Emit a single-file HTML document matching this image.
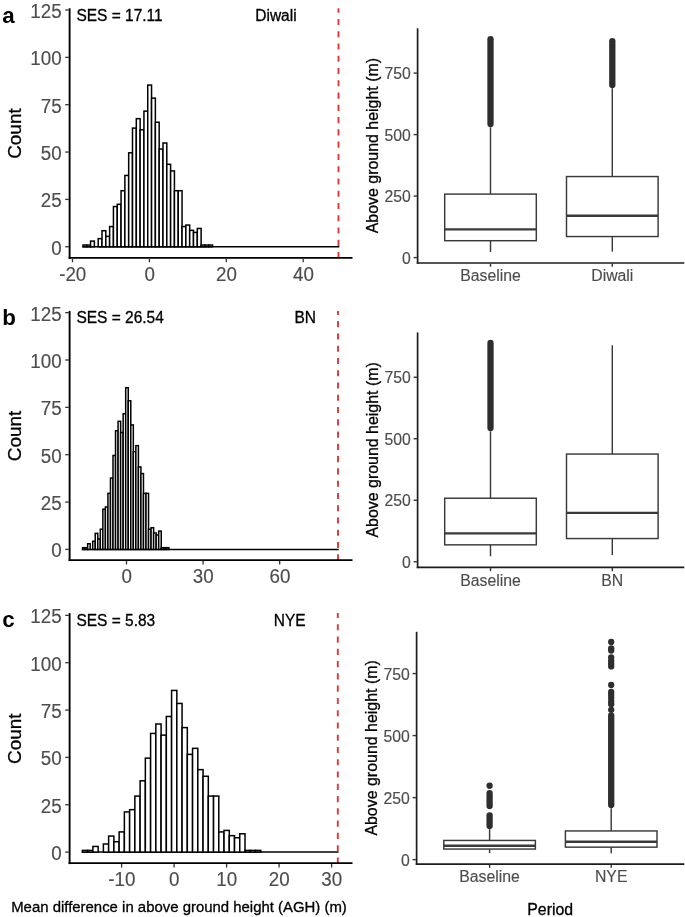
<!DOCTYPE html>
<html lang="en"><head><meta charset="utf-8"><title>Figure</title>
<style>html,body{margin:0;padding:0;background:#fff}svg{display:block;font-family:'Liberation Sans', Arial, sans-serif;filter:blur(0.45px)}text{stroke-width:.3px;stroke-linejoin:round}.g{fill:#4d4d4d;stroke:#4d4d4d;stroke-width:.15px}.k{fill:#000;stroke:#000}.b{fill:#000}</style>
</head><body>
<svg width="685" height="917" viewBox="0 0 685 917">
<rect width="685" height="917" fill="#fff"/>
<line x1="82.29" y1="246.75" x2="339.30" y2="246.75" stroke="#000" stroke-width="1.5"/>
<rect x="82.94" y="245.05" width="3.81" height="1.70" fill="#fff" stroke="#000" stroke-width="1.5"/>
<rect x="86.75" y="245.05" width="3.81" height="1.70" fill="#fff" stroke="#000" stroke-width="1.5"/>
<rect x="90.56" y="241.09" width="3.81" height="5.66" fill="#fff" stroke="#000" stroke-width="1.5"/>
<rect x="98.19" y="238.64" width="3.81" height="8.11" fill="#fff" stroke="#000" stroke-width="1.5"/>
<rect x="102.00" y="230.72" width="3.81" height="16.03" fill="#fff" stroke="#000" stroke-width="1.5"/>
<rect x="105.81" y="236.37" width="3.81" height="10.38" fill="#fff" stroke="#000" stroke-width="1.5"/>
<rect x="109.62" y="226.57" width="3.81" height="20.18" fill="#fff" stroke="#000" stroke-width="1.5"/>
<rect x="113.44" y="206.57" width="3.81" height="40.18" fill="#fff" stroke="#000" stroke-width="1.5"/>
<rect x="117.25" y="204.31" width="3.81" height="42.44" fill="#fff" stroke="#000" stroke-width="1.5"/>
<rect x="121.06" y="190.72" width="3.81" height="56.03" fill="#fff" stroke="#000" stroke-width="1.5"/>
<rect x="124.87" y="175.44" width="3.81" height="71.31" fill="#fff" stroke="#000" stroke-width="1.5"/>
<rect x="128.68" y="152.81" width="3.81" height="93.94" fill="#fff" stroke="#000" stroke-width="1.5"/>
<rect x="132.50" y="128.09" width="3.81" height="118.66" fill="#fff" stroke="#000" stroke-width="1.5"/>
<rect x="136.31" y="118.66" width="3.81" height="128.09" fill="#fff" stroke="#000" stroke-width="1.5"/>
<rect x="140.12" y="129.79" width="3.81" height="116.96" fill="#fff" stroke="#000" stroke-width="1.5"/>
<rect x="143.93" y="111.12" width="3.81" height="135.63" fill="#fff" stroke="#000" stroke-width="1.5"/>
<rect x="147.74" y="85.08" width="3.81" height="161.67" fill="#fff" stroke="#000" stroke-width="1.5"/>
<rect x="151.56" y="98.10" width="3.81" height="148.65" fill="#fff" stroke="#000" stroke-width="1.5"/>
<rect x="155.37" y="122.25" width="3.81" height="124.50" fill="#fff" stroke="#000" stroke-width="1.5"/>
<rect x="159.18" y="149.03" width="3.81" height="97.72" fill="#fff" stroke="#000" stroke-width="1.5"/>
<rect x="162.99" y="143.00" width="3.81" height="103.75" fill="#fff" stroke="#000" stroke-width="1.5"/>
<rect x="166.80" y="164.31" width="3.81" height="82.44" fill="#fff" stroke="#000" stroke-width="1.5"/>
<rect x="170.62" y="170.92" width="3.81" height="75.83" fill="#fff" stroke="#000" stroke-width="1.5"/>
<rect x="174.43" y="190.72" width="3.81" height="56.03" fill="#fff" stroke="#000" stroke-width="1.5"/>
<rect x="178.24" y="190.72" width="3.81" height="56.03" fill="#fff" stroke="#000" stroke-width="1.5"/>
<rect x="182.05" y="226.57" width="3.81" height="20.18" fill="#fff" stroke="#000" stroke-width="1.5"/>
<rect x="185.86" y="225.06" width="3.81" height="21.69" fill="#fff" stroke="#000" stroke-width="1.5"/>
<rect x="189.68" y="230.34" width="3.81" height="16.41" fill="#fff" stroke="#000" stroke-width="1.5"/>
<rect x="193.49" y="232.41" width="3.81" height="14.34" fill="#fff" stroke="#000" stroke-width="1.5"/>
<rect x="197.30" y="228.45" width="3.81" height="18.30" fill="#fff" stroke="#000" stroke-width="1.5"/>
<rect x="201.11" y="245.05" width="3.81" height="1.70" fill="#fff" stroke="#000" stroke-width="1.5"/>
<rect x="204.92" y="245.05" width="3.81" height="1.70" fill="#fff" stroke="#000" stroke-width="1.5"/>
<rect x="208.74" y="245.05" width="3.81" height="1.70" fill="#fff" stroke="#000" stroke-width="1.5"/>
<line x1="338.50" y1="258.15" x2="338.50" y2="8.30" stroke="#d93a36" stroke-width="1.9" stroke-dasharray="6.1 6.17"/>
<line x1="69.6" y1="8.30" x2="69.6" y2="258.75" stroke="#000" stroke-width="1.9"/>
<line x1="68.65" y1="257.85" x2="352.5" y2="257.85" stroke="#000" stroke-width="1.8"/>
<line x1="65.2" y1="246.75" x2="68.8" y2="246.75" stroke="#333" stroke-width="1.3"/>
<text transform="translate(61.6 254.60) scale(1 1.042)" text-anchor="end" font-size="18.8" class="g">0</text>
<line x1="65.2" y1="199.40" x2="68.8" y2="199.40" stroke="#333" stroke-width="1.3"/>
<text transform="translate(61.6 207.25) scale(1 1.042)" text-anchor="end" font-size="18.8" class="g">25</text>
<line x1="65.2" y1="152.05" x2="68.8" y2="152.05" stroke="#333" stroke-width="1.3"/>
<text transform="translate(61.6 159.90) scale(1 1.042)" text-anchor="end" font-size="18.8" class="g">50</text>
<line x1="65.2" y1="104.70" x2="68.8" y2="104.70" stroke="#333" stroke-width="1.3"/>
<text transform="translate(61.6 112.55) scale(1 1.042)" text-anchor="end" font-size="18.8" class="g">75</text>
<line x1="65.2" y1="57.35" x2="68.8" y2="57.35" stroke="#333" stroke-width="1.3"/>
<text transform="translate(61.6 65.20) scale(1 1.042)" text-anchor="end" font-size="18.8" class="g">100</text>
<line x1="65.2" y1="10.00" x2="68.8" y2="10.00" stroke="#333" stroke-width="1.3"/>
<text transform="translate(61.6 17.85) scale(1 1.042)" text-anchor="end" font-size="18.8" class="g">125</text>
<line x1="72.50" y1="258.65" x2="72.50" y2="262.25" stroke="#333" stroke-width="1.3"/>
<text transform="translate(72.70 281.05) scale(1 1.042)" text-anchor="middle" font-size="18.8" class="g">-20</text>
<line x1="149.40" y1="258.65" x2="149.40" y2="262.25" stroke="#333" stroke-width="1.3"/>
<text transform="translate(149.60 281.05) scale(1 1.042)" text-anchor="middle" font-size="18.8" class="g">0</text>
<line x1="226.30" y1="258.65" x2="226.30" y2="262.25" stroke="#333" stroke-width="1.3"/>
<text transform="translate(226.50 281.05) scale(1 1.042)" text-anchor="middle" font-size="18.8" class="g">20</text>
<line x1="303.20" y1="258.65" x2="303.20" y2="262.25" stroke="#333" stroke-width="1.3"/>
<text transform="translate(303.40 281.05) scale(1 1.042)" text-anchor="middle" font-size="18.8" class="g">40</text>
<text transform="translate(21.4 133.58) rotate(-90)" text-anchor="middle" font-size="18.95" class="k">Count</text>
<text x="2.3" y="22.85" font-size="22.3" font-weight="bold" class="b">a</text>
<text transform="translate(76.4 20.65) scale(1 1.042)" font-size="15.5" class="k">SES = 17.11</text>
<text transform="translate(255.30 20.65) scale(1 1.02)" font-size="15.5" class="k">Diwali</text>
<line x1="81.91" y1="549.40" x2="338.80" y2="549.40" stroke="#000" stroke-width="1.5"/>
<rect x="82.56" y="547.70" width="2.54" height="1.70" fill="#fff" stroke="#000" stroke-width="1.5"/>
<rect x="85.09" y="547.70" width="2.54" height="1.70" fill="#fff" stroke="#000" stroke-width="1.5"/>
<rect x="87.63" y="543.74" width="2.54" height="5.66" fill="#fff" stroke="#000" stroke-width="1.5"/>
<rect x="92.71" y="541.29" width="2.54" height="8.11" fill="#fff" stroke="#000" stroke-width="1.5"/>
<rect x="95.25" y="533.37" width="2.54" height="16.03" fill="#fff" stroke="#000" stroke-width="1.5"/>
<rect x="97.78" y="539.02" width="2.54" height="10.38" fill="#fff" stroke="#000" stroke-width="1.5"/>
<rect x="100.32" y="529.22" width="2.54" height="20.18" fill="#fff" stroke="#000" stroke-width="1.5"/>
<rect x="102.86" y="509.22" width="2.54" height="40.18" fill="#fff" stroke="#000" stroke-width="1.5"/>
<rect x="105.40" y="506.96" width="2.54" height="42.44" fill="#fff" stroke="#000" stroke-width="1.5"/>
<rect x="107.94" y="493.37" width="2.54" height="56.03" fill="#fff" stroke="#000" stroke-width="1.5"/>
<rect x="110.47" y="478.09" width="2.54" height="71.31" fill="#fff" stroke="#000" stroke-width="1.5"/>
<rect x="113.01" y="455.46" width="2.54" height="93.94" fill="#fff" stroke="#000" stroke-width="1.5"/>
<rect x="115.55" y="430.74" width="2.54" height="118.66" fill="#fff" stroke="#000" stroke-width="1.5"/>
<rect x="118.09" y="421.31" width="2.54" height="128.09" fill="#fff" stroke="#000" stroke-width="1.5"/>
<rect x="120.62" y="432.44" width="2.54" height="116.96" fill="#fff" stroke="#000" stroke-width="1.5"/>
<rect x="123.16" y="413.77" width="2.54" height="135.63" fill="#fff" stroke="#000" stroke-width="1.5"/>
<rect x="125.70" y="387.73" width="2.54" height="161.67" fill="#fff" stroke="#000" stroke-width="1.5"/>
<rect x="128.24" y="400.75" width="2.54" height="148.65" fill="#fff" stroke="#000" stroke-width="1.5"/>
<rect x="130.78" y="424.90" width="2.54" height="124.50" fill="#fff" stroke="#000" stroke-width="1.5"/>
<rect x="133.31" y="451.68" width="2.54" height="97.72" fill="#fff" stroke="#000" stroke-width="1.5"/>
<rect x="135.85" y="445.65" width="2.54" height="103.75" fill="#fff" stroke="#000" stroke-width="1.5"/>
<rect x="138.39" y="466.96" width="2.54" height="82.44" fill="#fff" stroke="#000" stroke-width="1.5"/>
<rect x="140.93" y="473.57" width="2.54" height="75.83" fill="#fff" stroke="#000" stroke-width="1.5"/>
<rect x="143.47" y="493.37" width="2.54" height="56.03" fill="#fff" stroke="#000" stroke-width="1.5"/>
<rect x="146.00" y="493.37" width="2.54" height="56.03" fill="#fff" stroke="#000" stroke-width="1.5"/>
<rect x="148.54" y="529.22" width="2.54" height="20.18" fill="#fff" stroke="#000" stroke-width="1.5"/>
<rect x="151.08" y="527.71" width="2.54" height="21.69" fill="#fff" stroke="#000" stroke-width="1.5"/>
<rect x="153.62" y="532.99" width="2.54" height="16.41" fill="#fff" stroke="#000" stroke-width="1.5"/>
<rect x="156.16" y="535.06" width="2.54" height="14.34" fill="#fff" stroke="#000" stroke-width="1.5"/>
<rect x="158.69" y="531.10" width="2.54" height="18.30" fill="#fff" stroke="#000" stroke-width="1.5"/>
<rect x="161.23" y="547.70" width="2.54" height="1.70" fill="#fff" stroke="#000" stroke-width="1.5"/>
<rect x="163.77" y="547.70" width="2.54" height="1.70" fill="#fff" stroke="#000" stroke-width="1.5"/>
<rect x="166.31" y="547.70" width="2.54" height="1.70" fill="#fff" stroke="#000" stroke-width="1.5"/>
<line x1="338.00" y1="560.35" x2="338.00" y2="310.90" stroke="#d93a36" stroke-width="1.9" stroke-dasharray="6.1 6.17"/>
<line x1="69.6" y1="310.90" x2="69.6" y2="560.95" stroke="#000" stroke-width="1.9"/>
<line x1="68.65" y1="560.05" x2="352.5" y2="560.05" stroke="#000" stroke-width="1.8"/>
<line x1="65.2" y1="549.40" x2="68.8" y2="549.40" stroke="#333" stroke-width="1.3"/>
<text transform="translate(61.6 557.25) scale(1 1.042)" text-anchor="end" font-size="18.8" class="g">0</text>
<line x1="65.2" y1="502.05" x2="68.8" y2="502.05" stroke="#333" stroke-width="1.3"/>
<text transform="translate(61.6 509.90) scale(1 1.042)" text-anchor="end" font-size="18.8" class="g">25</text>
<line x1="65.2" y1="454.70" x2="68.8" y2="454.70" stroke="#333" stroke-width="1.3"/>
<text transform="translate(61.6 462.55) scale(1 1.042)" text-anchor="end" font-size="18.8" class="g">50</text>
<line x1="65.2" y1="407.35" x2="68.8" y2="407.35" stroke="#333" stroke-width="1.3"/>
<text transform="translate(61.6 415.20) scale(1 1.042)" text-anchor="end" font-size="18.8" class="g">75</text>
<line x1="65.2" y1="360.00" x2="68.8" y2="360.00" stroke="#333" stroke-width="1.3"/>
<text transform="translate(61.6 367.85) scale(1 1.042)" text-anchor="end" font-size="18.8" class="g">100</text>
<line x1="65.2" y1="312.65" x2="68.8" y2="312.65" stroke="#333" stroke-width="1.3"/>
<text transform="translate(61.6 320.50) scale(1 1.042)" text-anchor="end" font-size="18.8" class="g">125</text>
<line x1="126.50" y1="560.85" x2="126.50" y2="564.45" stroke="#333" stroke-width="1.3"/>
<text transform="translate(126.70 583.25) scale(1 1.042)" text-anchor="middle" font-size="18.8" class="g">0</text>
<line x1="203.09" y1="560.85" x2="203.09" y2="564.45" stroke="#333" stroke-width="1.3"/>
<text transform="translate(203.29 583.25) scale(1 1.042)" text-anchor="middle" font-size="18.8" class="g">30</text>
<line x1="279.68" y1="560.85" x2="279.68" y2="564.45" stroke="#333" stroke-width="1.3"/>
<text transform="translate(279.88 583.25) scale(1 1.042)" text-anchor="middle" font-size="18.8" class="g">60</text>
<text transform="translate(21.4 435.97) rotate(-90)" text-anchor="middle" font-size="18.95" class="k">Count</text>
<text x="2.3" y="324.75" font-size="22.3" font-weight="bold" class="b">b</text>
<text transform="translate(76.4 323.25) scale(1 1.042)" font-size="15.5" class="k">SES = 26.54</text>
<text transform="translate(294.40 323.25) scale(1 1.042)" font-size="15.5" class="k">BN</text>
<line x1="81.76" y1="852.10" x2="338.60" y2="852.10" stroke="#000" stroke-width="1.5"/>
<rect x="82.41" y="850.40" width="5.25" height="1.70" fill="#fff" stroke="#000" stroke-width="1.5"/>
<rect x="87.66" y="850.40" width="5.25" height="1.70" fill="#fff" stroke="#000" stroke-width="1.5"/>
<rect x="92.90" y="846.44" width="5.25" height="5.66" fill="#fff" stroke="#000" stroke-width="1.5"/>
<rect x="103.39" y="843.99" width="5.25" height="8.11" fill="#fff" stroke="#000" stroke-width="1.5"/>
<rect x="108.64" y="836.07" width="5.25" height="16.03" fill="#fff" stroke="#000" stroke-width="1.5"/>
<rect x="113.88" y="841.72" width="5.25" height="10.38" fill="#fff" stroke="#000" stroke-width="1.5"/>
<rect x="119.13" y="831.92" width="5.25" height="20.18" fill="#fff" stroke="#000" stroke-width="1.5"/>
<rect x="124.37" y="811.92" width="5.25" height="40.18" fill="#fff" stroke="#000" stroke-width="1.5"/>
<rect x="129.62" y="809.66" width="5.25" height="42.44" fill="#fff" stroke="#000" stroke-width="1.5"/>
<rect x="134.86" y="796.07" width="5.25" height="56.03" fill="#fff" stroke="#000" stroke-width="1.5"/>
<rect x="140.11" y="780.79" width="5.25" height="71.31" fill="#fff" stroke="#000" stroke-width="1.5"/>
<rect x="145.35" y="758.16" width="5.25" height="93.94" fill="#fff" stroke="#000" stroke-width="1.5"/>
<rect x="150.60" y="733.44" width="5.25" height="118.66" fill="#fff" stroke="#000" stroke-width="1.5"/>
<rect x="155.84" y="724.01" width="5.25" height="128.09" fill="#fff" stroke="#000" stroke-width="1.5"/>
<rect x="161.09" y="735.14" width="5.25" height="116.96" fill="#fff" stroke="#000" stroke-width="1.5"/>
<rect x="166.33" y="716.47" width="5.25" height="135.63" fill="#fff" stroke="#000" stroke-width="1.5"/>
<rect x="171.58" y="690.43" width="5.25" height="161.67" fill="#fff" stroke="#000" stroke-width="1.5"/>
<rect x="176.82" y="703.45" width="5.25" height="148.65" fill="#fff" stroke="#000" stroke-width="1.5"/>
<rect x="182.07" y="727.60" width="5.25" height="124.50" fill="#fff" stroke="#000" stroke-width="1.5"/>
<rect x="187.31" y="754.38" width="5.25" height="97.72" fill="#fff" stroke="#000" stroke-width="1.5"/>
<rect x="192.56" y="748.35" width="5.25" height="103.75" fill="#fff" stroke="#000" stroke-width="1.5"/>
<rect x="197.80" y="769.66" width="5.25" height="82.44" fill="#fff" stroke="#000" stroke-width="1.5"/>
<rect x="203.05" y="776.27" width="5.25" height="75.83" fill="#fff" stroke="#000" stroke-width="1.5"/>
<rect x="208.29" y="796.07" width="5.25" height="56.03" fill="#fff" stroke="#000" stroke-width="1.5"/>
<rect x="213.54" y="796.07" width="5.25" height="56.03" fill="#fff" stroke="#000" stroke-width="1.5"/>
<rect x="218.78" y="831.92" width="5.25" height="20.18" fill="#fff" stroke="#000" stroke-width="1.5"/>
<rect x="224.03" y="830.41" width="5.25" height="21.69" fill="#fff" stroke="#000" stroke-width="1.5"/>
<rect x="229.27" y="835.69" width="5.25" height="16.41" fill="#fff" stroke="#000" stroke-width="1.5"/>
<rect x="234.52" y="837.76" width="5.25" height="14.34" fill="#fff" stroke="#000" stroke-width="1.5"/>
<rect x="239.76" y="833.80" width="5.25" height="18.30" fill="#fff" stroke="#000" stroke-width="1.5"/>
<rect x="245.01" y="850.40" width="5.25" height="1.70" fill="#fff" stroke="#000" stroke-width="1.5"/>
<rect x="250.25" y="850.40" width="5.25" height="1.70" fill="#fff" stroke="#000" stroke-width="1.5"/>
<rect x="255.50" y="850.40" width="5.25" height="1.70" fill="#fff" stroke="#000" stroke-width="1.5"/>
<line x1="337.80" y1="863.50" x2="337.80" y2="613.10" stroke="#d93a36" stroke-width="1.9" stroke-dasharray="6.1 6.17"/>
<line x1="69.6" y1="613.10" x2="69.6" y2="864.10" stroke="#000" stroke-width="1.9"/>
<line x1="68.65" y1="863.20" x2="352.5" y2="863.20" stroke="#000" stroke-width="1.8"/>
<line x1="65.2" y1="852.10" x2="68.8" y2="852.10" stroke="#333" stroke-width="1.3"/>
<text transform="translate(61.6 859.95) scale(1 1.042)" text-anchor="end" font-size="18.8" class="g">0</text>
<line x1="65.2" y1="804.75" x2="68.8" y2="804.75" stroke="#333" stroke-width="1.3"/>
<text transform="translate(61.6 812.60) scale(1 1.042)" text-anchor="end" font-size="18.8" class="g">25</text>
<line x1="65.2" y1="757.40" x2="68.8" y2="757.40" stroke="#333" stroke-width="1.3"/>
<text transform="translate(61.6 765.25) scale(1 1.042)" text-anchor="end" font-size="18.8" class="g">50</text>
<line x1="65.2" y1="710.05" x2="68.8" y2="710.05" stroke="#333" stroke-width="1.3"/>
<text transform="translate(61.6 717.90) scale(1 1.042)" text-anchor="end" font-size="18.8" class="g">75</text>
<line x1="65.2" y1="662.70" x2="68.8" y2="662.70" stroke="#333" stroke-width="1.3"/>
<text transform="translate(61.6 670.55) scale(1 1.042)" text-anchor="end" font-size="18.8" class="g">100</text>
<line x1="65.2" y1="615.35" x2="68.8" y2="615.35" stroke="#333" stroke-width="1.3"/>
<text transform="translate(61.6 623.20) scale(1 1.042)" text-anchor="end" font-size="18.8" class="g">125</text>
<line x1="121.60" y1="864.00" x2="121.60" y2="867.60" stroke="#333" stroke-width="1.3"/>
<text transform="translate(121.80 886.40) scale(1 1.042)" text-anchor="middle" font-size="18.8" class="g">-10</text>
<line x1="174.10" y1="864.00" x2="174.10" y2="867.60" stroke="#333" stroke-width="1.3"/>
<text transform="translate(174.30 886.40) scale(1 1.042)" text-anchor="middle" font-size="18.8" class="g">0</text>
<line x1="226.60" y1="864.00" x2="226.60" y2="867.60" stroke="#333" stroke-width="1.3"/>
<text transform="translate(226.80 886.40) scale(1 1.042)" text-anchor="middle" font-size="18.8" class="g">10</text>
<line x1="279.10" y1="864.00" x2="279.10" y2="867.60" stroke="#333" stroke-width="1.3"/>
<text transform="translate(279.30 886.40) scale(1 1.042)" text-anchor="middle" font-size="18.8" class="g">20</text>
<line x1="331.60" y1="864.00" x2="331.60" y2="867.60" stroke="#333" stroke-width="1.3"/>
<text transform="translate(331.80 886.40) scale(1 1.042)" text-anchor="middle" font-size="18.8" class="g">30</text>
<text transform="translate(21.4 738.65) rotate(-90)" text-anchor="middle" font-size="18.95" class="k">Count</text>
<text x="2.3" y="627.15" font-size="22.3" font-weight="bold" class="b">c</text>
<text transform="translate(76.4 625.65) scale(1 1.042)" font-size="15.5" class="k">SES = 5.83</text>
<text transform="translate(273.80 625.65) scale(1 1.042)" font-size="15.5" class="k">NYE</text>
<line x1="490.5" y1="127.25" x2="490.5" y2="194.10" stroke="#3a3a3a" stroke-width="1.45"/>
<line x1="490.5" y1="240.70" x2="490.5" y2="252.05" stroke="#3a3a3a" stroke-width="1.45"/>
<rect x="444.70" y="194.10" width="91.60" height="46.60" fill="#fff" stroke="#3a3a3a" stroke-width="1.45"/>
<line x1="444.70" y1="229.30" x2="536.30" y2="229.30" stroke="#3a3a3a" stroke-width="2.3"/>
<line x1="490.5" y1="39.20" x2="490.5" y2="124.00" stroke="#2e2e2e" stroke-width="6.3" stroke-linecap="round"/>
<line x1="612.3" y1="88.25" x2="612.3" y2="176.55" stroke="#3a3a3a" stroke-width="1.45"/>
<line x1="612.3" y1="236.55" x2="612.3" y2="251.65" stroke="#3a3a3a" stroke-width="1.45"/>
<rect x="566.50" y="176.55" width="91.60" height="60.00" fill="#fff" stroke="#3a3a3a" stroke-width="1.45"/>
<line x1="566.50" y1="215.75" x2="658.10" y2="215.75" stroke="#3a3a3a" stroke-width="2.3"/>
<line x1="612.3" y1="41.20" x2="612.3" y2="85.00" stroke="#2e2e2e" stroke-width="6.3" stroke-linecap="round"/>
<line x1="417.6" y1="28.30" x2="417.6" y2="263.75" stroke="#1c1c1c" stroke-width="1.7"/>
<line x1="416.75" y1="263.00" x2="684.3" y2="263.00" stroke="#1c1c1c" stroke-width="1.7"/>
<line x1="413.6" y1="257.60" x2="416.90000000000003" y2="257.60" stroke="#333" stroke-width="1.4"/>
<text transform="translate(410.8 263.55) scale(1 1.042)" text-anchor="end" font-size="15.8" class="g">0</text>
<line x1="413.6" y1="196.10" x2="416.90000000000003" y2="196.10" stroke="#333" stroke-width="1.4"/>
<text transform="translate(410.8 202.05) scale(1 1.042)" text-anchor="end" font-size="15.8" class="g">250</text>
<line x1="413.6" y1="134.60" x2="416.90000000000003" y2="134.60" stroke="#333" stroke-width="1.4"/>
<text transform="translate(410.8 140.55) scale(1 1.042)" text-anchor="end" font-size="15.8" class="g">500</text>
<line x1="413.6" y1="73.10" x2="416.90000000000003" y2="73.10" stroke="#333" stroke-width="1.4"/>
<text transform="translate(410.8 79.05) scale(1 1.042)" text-anchor="end" font-size="15.8" class="g">750</text>
<line x1="490.5" y1="263.70" x2="490.5" y2="266.80" stroke="#333" stroke-width="1.4"/>
<text x="490.5" y="281.40" text-anchor="middle" font-size="15.8" class="g">Baseline</text>
<line x1="612.3" y1="263.70" x2="612.3" y2="266.80" stroke="#333" stroke-width="1.4"/>
<text x="612.3" y="281.40" text-anchor="middle" font-size="15.8" class="g">Diwali</text>
<text transform="translate(377.5 145.65) rotate(-90)" text-anchor="middle" font-size="15.95" class="k">Above ground height (m)</text>
<line x1="490.5" y1="431.25" x2="490.5" y2="498.25" stroke="#3a3a3a" stroke-width="1.45"/>
<line x1="490.5" y1="544.85" x2="490.5" y2="556.25" stroke="#3a3a3a" stroke-width="1.45"/>
<rect x="444.70" y="498.25" width="91.60" height="46.60" fill="#fff" stroke="#3a3a3a" stroke-width="1.45"/>
<line x1="444.70" y1="533.40" x2="536.30" y2="533.40" stroke="#3a3a3a" stroke-width="2.3"/>
<line x1="490.5" y1="343.00" x2="490.5" y2="428.00" stroke="#2e2e2e" stroke-width="6.3" stroke-linecap="round"/>
<line x1="612.3" y1="345.25" x2="612.3" y2="454.05" stroke="#3a3a3a" stroke-width="1.45"/>
<line x1="612.3" y1="538.55" x2="612.3" y2="555.05" stroke="#3a3a3a" stroke-width="1.45"/>
<rect x="566.50" y="454.05" width="91.60" height="84.50" fill="#fff" stroke="#3a3a3a" stroke-width="1.45"/>
<line x1="566.50" y1="512.85" x2="658.10" y2="512.85" stroke="#3a3a3a" stroke-width="2.3"/>
<line x1="417.6" y1="332.40" x2="417.6" y2="568.10" stroke="#1c1c1c" stroke-width="1.7"/>
<line x1="416.75" y1="567.35" x2="684.3" y2="567.35" stroke="#1c1c1c" stroke-width="1.7"/>
<line x1="413.6" y1="561.75" x2="416.90000000000003" y2="561.75" stroke="#333" stroke-width="1.4"/>
<text transform="translate(410.8 567.70) scale(1 1.042)" text-anchor="end" font-size="15.8" class="g">0</text>
<line x1="413.6" y1="500.25" x2="416.90000000000003" y2="500.25" stroke="#333" stroke-width="1.4"/>
<text transform="translate(410.8 506.20) scale(1 1.042)" text-anchor="end" font-size="15.8" class="g">250</text>
<line x1="413.6" y1="438.75" x2="416.90000000000003" y2="438.75" stroke="#333" stroke-width="1.4"/>
<text transform="translate(410.8 444.70) scale(1 1.042)" text-anchor="end" font-size="15.8" class="g">500</text>
<line x1="413.6" y1="377.25" x2="416.90000000000003" y2="377.25" stroke="#333" stroke-width="1.4"/>
<text transform="translate(410.8 383.20) scale(1 1.042)" text-anchor="end" font-size="15.8" class="g">750</text>
<line x1="490.5" y1="568.05" x2="490.5" y2="571.15" stroke="#333" stroke-width="1.4"/>
<text x="490.5" y="585.75" text-anchor="middle" font-size="15.8" class="g">Baseline</text>
<line x1="612.3" y1="568.05" x2="612.3" y2="571.15" stroke="#333" stroke-width="1.4"/>
<text x="612.3" y="585.75" text-anchor="middle" font-size="15.8" class="g">BN</text>
<text transform="translate(377.5 449.88) rotate(-90)" text-anchor="middle" font-size="15.95" class="k">Above ground height (m)</text>
<line x1="489.6" y1="829.25" x2="489.6" y2="840.45" stroke="#3a3a3a" stroke-width="1.45"/>
<line x1="489.6" y1="849.05" x2="489.6" y2="853.15" stroke="#3a3a3a" stroke-width="1.45"/>
<rect x="443.80" y="840.45" width="91.60" height="8.60" fill="#fff" stroke="#3a3a3a" stroke-width="1.45"/>
<line x1="443.80" y1="845.75" x2="535.40" y2="845.75" stroke="#3a3a3a" stroke-width="2.3"/>
<line x1="489.6" y1="793.10" x2="489.6" y2="806.10" stroke="#2e2e2e" stroke-width="6.3" stroke-linecap="round"/><line x1="489.6" y1="815.30" x2="489.6" y2="826.00" stroke="#2e2e2e" stroke-width="6.3" stroke-linecap="round"/><circle cx="489.6" cy="785.75" r="3.15" fill="#2e2e2e"/>
<line x1="611.2" y1="808.25" x2="611.2" y2="830.95" stroke="#3a3a3a" stroke-width="1.45"/>
<line x1="611.2" y1="847.15" x2="611.2" y2="853.35" stroke="#3a3a3a" stroke-width="1.45"/>
<rect x="565.40" y="830.95" width="91.60" height="16.20" fill="#fff" stroke="#3a3a3a" stroke-width="1.45"/>
<line x1="565.40" y1="841.75" x2="657.00" y2="841.75" stroke="#3a3a3a" stroke-width="2.3"/>
<line x1="611.2" y1="715.50" x2="611.2" y2="805.00" stroke="#2e2e2e" stroke-width="6.3" stroke-linecap="round"/><circle cx="611.2" cy="642" r="3.15" fill="#2e2e2e"/><circle cx="611.2" cy="648.3" r="3.15" fill="#2e2e2e"/><circle cx="611.2" cy="650.5" r="3.15" fill="#2e2e2e"/><circle cx="611.2" cy="657.3" r="3.15" fill="#2e2e2e"/><circle cx="611.2" cy="660.7" r="3.15" fill="#2e2e2e"/><circle cx="611.2" cy="663.7" r="3.15" fill="#2e2e2e"/><circle cx="611.2" cy="666.4" r="3.15" fill="#2e2e2e"/><circle cx="611.2" cy="685" r="3.15" fill="#2e2e2e"/><circle cx="611.2" cy="692" r="3.15" fill="#2e2e2e"/><circle cx="611.2" cy="694.7" r="3.15" fill="#2e2e2e"/><circle cx="611.2" cy="698" r="3.15" fill="#2e2e2e"/><circle cx="611.2" cy="701.5" r="3.15" fill="#2e2e2e"/><circle cx="611.2" cy="704.2" r="3.15" fill="#2e2e2e"/><circle cx="611.2" cy="709.8" r="3.15" fill="#2e2e2e"/>
<line x1="416.6" y1="631.80" x2="416.6" y2="864.80" stroke="#1c1c1c" stroke-width="1.7"/>
<line x1="415.75" y1="864.05" x2="684.3" y2="864.05" stroke="#1c1c1c" stroke-width="1.7"/>
<line x1="412.6" y1="859.65" x2="415.90000000000003" y2="859.65" stroke="#333" stroke-width="1.4"/>
<text transform="translate(409.8 865.60) scale(1 1.042)" text-anchor="end" font-size="15.8" class="g">0</text>
<line x1="412.6" y1="797.62" x2="415.90000000000003" y2="797.62" stroke="#333" stroke-width="1.4"/>
<text transform="translate(409.8 803.58) scale(1 1.042)" text-anchor="end" font-size="15.8" class="g">250</text>
<line x1="412.6" y1="735.60" x2="415.90000000000003" y2="735.60" stroke="#333" stroke-width="1.4"/>
<text transform="translate(409.8 741.55) scale(1 1.042)" text-anchor="end" font-size="15.8" class="g">500</text>
<line x1="412.6" y1="673.58" x2="415.90000000000003" y2="673.58" stroke="#333" stroke-width="1.4"/>
<text transform="translate(409.8 679.53) scale(1 1.042)" text-anchor="end" font-size="15.8" class="g">750</text>
<line x1="489.6" y1="864.75" x2="489.6" y2="867.85" stroke="#333" stroke-width="1.4"/>
<text x="489.6" y="882.45" text-anchor="middle" font-size="15.8" class="g">Baseline</text>
<line x1="611.2" y1="864.75" x2="611.2" y2="867.85" stroke="#333" stroke-width="1.4"/>
<text x="611.2" y="882.45" text-anchor="middle" font-size="15.8" class="g">NYE</text>
<text transform="translate(376.5 747.92) rotate(-90)" text-anchor="middle" font-size="15.95" class="k">Above ground height (m)</text>
<text x="11.2" y="912" font-size="14.93" class="k">Mean difference in above ground height (AGH) (m)</text>
<text x="550.2" y="914.6" text-anchor="middle" font-size="15.85" class="k">Period</text>
</svg>
</body></html>
